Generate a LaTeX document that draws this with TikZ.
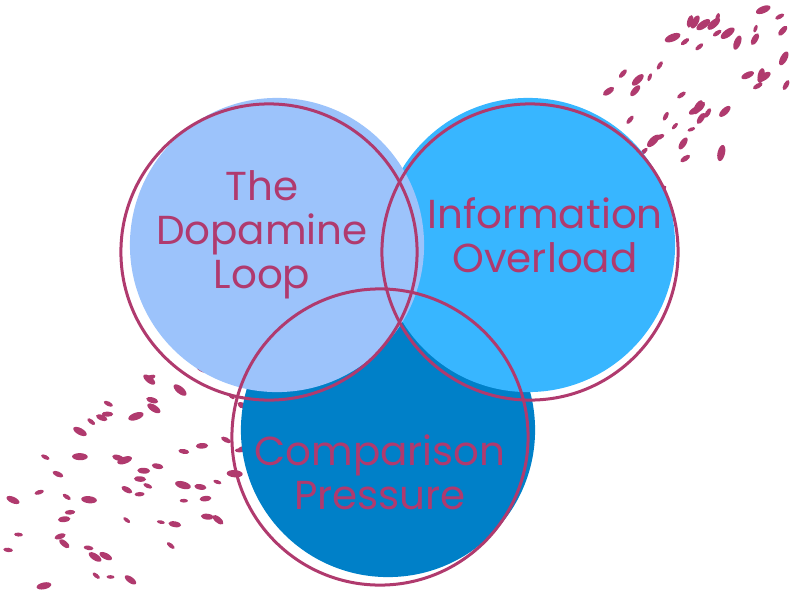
\documentclass[tikz,border=0pt]{standalone}
\usepackage{fontspec}
\setmainfont{Poppins}
\usetikzlibrary{positioning}
\definecolor{berry}{HTML}{B03A6E}
\definecolor{paleblue}{HTML}{9CC3FB}
\definecolor{skyblue}{HTML}{38B6FF}
\definecolor{deepblue}{HTML}{0080C8}
\begin{document}
\begin{tikzpicture}[x=0.01cm, y=-0.01cm,
        blob/.style={circle, minimum size=2.94cm, inner sep=0pt},
        ring/.style={circle, draw=berry, line width=0.03cm, minimum size=2.96cm, inner sep=0pt},
        title/.style={text=berry, font=\fontsize{11.5}{12.5}\selectfont, align=center},
        speck/.style={fill=berry}
    ]
\useasboundingbox (0,0) rectangle (800,600);

% Scattered specks
\pgfmathsetseed{11}
\foreach \i in {1,...,55} {
    \pgfmathsetmacro{\t}{rnd}
    \pgfmathsetmacro{\s}{rnd*140-70}
    \pgfmathsetmacro{\px}{630+\t*180+\s*0.6}
    \pgfmathsetmacro{\py}{150-\t*170+\s*0.75}
    \pgfmathsetmacro{\rr}{1.8+rnd*2}
    \pgfmathsetmacro{\ang}{20+rnd*60}
    \fill[speck, rotate around={\ang:(\px,\py)}] (\px,\py) ellipse ({\rr*2.2} and \rr);
}
\foreach \i in {1,...,75} {
    \pgfmathsetmacro{\t}{rnd}
    \pgfmathsetmacro{\s}{rnd*170-85}
    \pgfmathsetmacro{\px}{\t*250+\s*0.6}
    \pgfmathsetmacro{\py}{600-\t*210+\s*0.75}
    \pgfmathsetmacro{\rr}{1.8+rnd*2}
    \pgfmathsetmacro{\ang}{-40+rnd*60}
    \fill[speck, rotate around={\ang:(\px,\py)}] (\px,\py) ellipse ({\rr*2.2} and \rr);
}

% Filled discs
\node[blob, fill=deepblue] (comp) at (388,430) {};
\node[blob, fill=skyblue] (info) at (528,245) {};
\node[blob, fill=paleblue] (dopa) at (277,245) {};

% Outline rings
\node[ring] (dopa_ring) at (269,252) {};
\node[ring] (info_ring) at (530,252) {};
\node[ring] (comp_ring) at (380,437) {};

% Labels
\node[title] (dopa_text) at (262,235) {The\\Dopamine\\Loop};
\node[title] (info_text) at (545,235) {Information\\Overload};
\node[title] (comp_text) at (380,472) {Comparison\\Pressure};

\end{tikzpicture}
\end{document}
